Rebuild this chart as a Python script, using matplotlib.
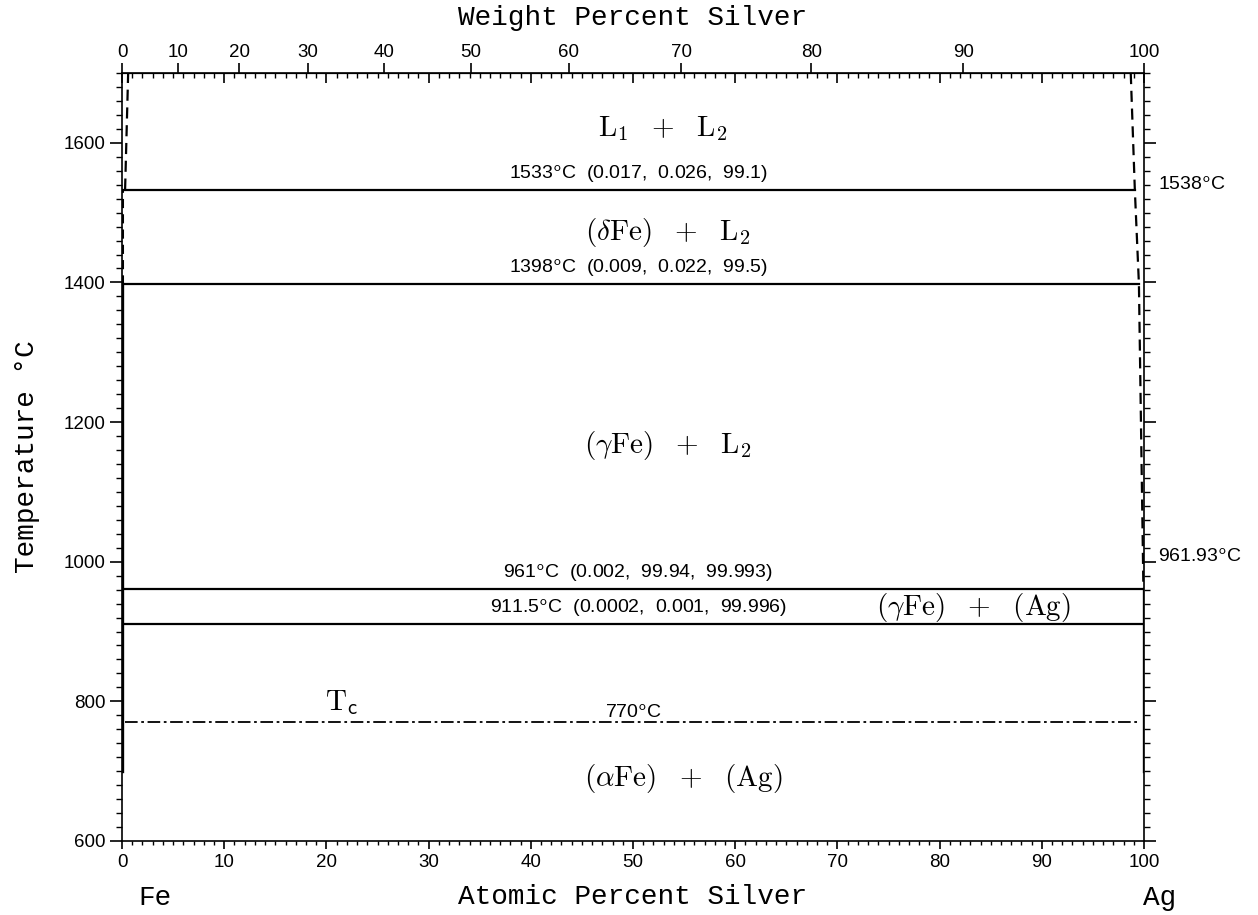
## Fe-Ag phase diagram: temperature vs atomic percent silver, with weight percent on top
import numpy as np
import matplotlib
matplotlib.use("Agg")
import matplotlib.pyplot as plt

plt.rcParams['mathtext.fontset'] = 'cm'

# atomic masses, used only for the weight-percent scale on top
M_AG = 107.8682
M_FE = 55.845

# invariant reactions: temperature, left end, right end (at.% Ag)
inv_temps = [1533, 1398, 961, 911.5]
inv_left = [0.017, 0.009, 0.002, 0.0002]
inv_right = [99.1, 99.5, 99.993, 99.996]
inv_labels = ["1533$^{\\mathsf{o}}$C  (0.017,  0.026,  99.1)",
              "1398$^{\\mathsf{o}}$C  (0.009,  0.022,  99.5)",
              "961$^{\\mathsf{o}}$C  (0.002,  99.94,  99.993)",
              "911.5$^{\\mathsf{o}}$C  (0.0002,  0.001,  99.996)"]

# magnetic transition of Fe
tc_temp = 770
tc_span = [0.3, 99.6]

# L1 boundary on the Fe side (dashed)
l1_x = [0.3, 0.6]
l1_t = [1533, 1700]
# L2 boundary on the Ag side (dashed)
l2_x = [98.7, 99.1, 99.5, 99.94]
l2_t = [1700, 1533, 1398, 961]
# (Fe) solvus along the Fe edge
fe_solid_x = [0.01, 0.01]
fe_solid_t = [700, 1398]
fe_dash_x = [0.013, 0.013]
fe_dash_t = [1398, 1533]
# (Ag) solvus along the Ag edge
ag_x = [99.99, 99.99]
ag_t = [700, 961]

wt_ticks = [0, 10, 20, 30, 40, 50, 60, 70, 80, 90, 100]


def at2wt(a):
    a = np.asarray(a, dtype=float)
    with np.errstate(divide='ignore', invalid='ignore'):
        return 100 * a * M_AG / (a * M_AG + (100 - a) * M_FE)


def wt2at(w):
    w = np.asarray(w, dtype=float)
    with np.errstate(divide='ignore', invalid='ignore'):
        return 100 * (w / M_AG) / (w / M_AG + (100 - w) / M_FE)


fig = plt.figure(figsize=(12.58, 9.15), dpi=100)
ax = fig.add_axes([0.097, 0.0809, 0.8124, 0.8393])
ax.set_xlim(0, 100)
ax.set_ylim(600, 1700)

# horizontal invariant lines
for t, x0, x1, lab in zip(inv_temps, inv_left, inv_right, inv_labels):
    ax.plot([x0, x1], [t, t], color='k', lw=1.6)
    ax.text(50.5, t + 7, lab, ha='center', va='bottom', fontsize=14,
            family='Liberation Sans')

ax.plot(tc_span, [tc_temp, tc_temp], color='k', lw=1.3, linestyle=(0, (7, 2, 1.5, 2)))
ax.text(50, tc_temp + 1, "770$^{\\mathsf{o}}$C", ha='center', va='bottom', fontsize=14,
        family='Liberation Sans')
ax.text(21.5, 798, "$\\mathrm{T}_{\\mathsf{c}}$", ha='center', va='center', fontsize=21)

ax.plot(l1_x, l1_t, color='k', lw=1.6, linestyle=(0, (5, 3)))
ax.plot(l2_x, l2_t, color='k', lw=1.6, linestyle=(0, (5, 3)))
ax.plot(fe_solid_x, fe_solid_t, color='k', lw=2.4)
ax.plot(fe_dash_x, fe_dash_t, color='k', lw=2.2, linestyle=(0, (3, 2)))
ax.plot(ag_x, ag_t, color='k', lw=2.4)

# phase region labels
ax.text(52.9, 1621, "$\\mathrm{L}_1\\ \\ +\\ \\ \\mathrm{L}_2$", ha='center', va='center', fontsize=21)
ax.text(53.4, 1471, "$(\\delta\\mathrm{Fe})\\ \\ +\\ \\ \\mathrm{L}_2$", ha='center', va='center', fontsize=21)
ax.text(53.4, 1167, "$(\\gamma\\mathrm{Fe})\\ \\ +\\ \\ \\mathrm{L}_2$", ha='center', va='center', fontsize=21)
ax.text(83.3, 934, "$(\\gamma\\mathrm{Fe})\\ \\ +\\ \\ (\\mathrm{Ag})$", ha='center', va='center', fontsize=21)
ax.text(54.9, 690, "$(\\alpha\\mathrm{Fe})\\ \\ +\\ \\ (\\mathrm{Ag})$", ha='center', va='center', fontsize=21)

# melting points of the pure metals on the right
ax.text(101.4, 1540, "1538$^{\\mathsf{o}}$C", ha='left', va='center', fontsize=14,
        family='Liberation Sans', clip_on=False)
ax.text(101.4, 1007, "961.93$^{\\mathsf{o}}$C", ha='left', va='center', fontsize=14,
        family='Liberation Sans', clip_on=False)

# axes, ticks
ax.set_xticks(np.arange(0, 101, 10))
ax.set_xticks(np.arange(0, 101, 1), minor=True)
ax.set_yticks(np.arange(600, 1601, 200))
ax.set_yticks(np.arange(600, 1701, 20), minor=True)
ax.tick_params(axis='x', which='both', direction='out', top=False)
ax.tick_params(axis='x', which='major', length=6, width=1.2)
ax.tick_params(axis='x', which='minor', length=3, width=1)
ax.tick_params(axis='y', which='both', direction='out', right=True, labelright=False)
ax.tick_params(axis='y', which='major', length=8.5, width=1.2)
ax.tick_params(axis='y', which='minor', length=4, width=1)
for lab in ax.get_xticklabels() + ax.get_yticklabels():
    lab.set_family('Liberation Sans')
    lab.set_fontsize(13.5)
for s in ax.spines.values():
    s.set_linewidth(1.2)

# at.% ticks pointing inward along the top edge
top_in = ax.secondary_xaxis('top')
top_in.set_xticks(np.arange(0, 101, 10))
top_in.set_xticks(np.arange(0, 101, 1), minor=True)
top_in.tick_params(which='both', direction='in', labeltop=False)
top_in.tick_params(which='major', length=7, width=1.2)
top_in.tick_params(which='minor', length=3.5, width=1)

# wt.% scale on the top edge
top_wt = ax.secondary_xaxis('top', functions=(at2wt, wt2at))
top_wt.set_xticks(wt_ticks)
top_wt.xaxis.set_minor_locator(matplotlib.ticker.NullLocator())
top_wt.tick_params(which='major', direction='out', length=7, width=1.2, pad=2)
for lab in top_wt.get_xticklabels():
    lab.set_family('Liberation Sans')
    lab.set_fontsize(13.5)
top_wt.set_xlabel("Weight Percent Silver", family='Liberation Mono', fontsize=20, labelpad=13)

ax.set_xlabel("Atomic Percent Silver", family='Liberation Mono', fontsize=20, labelpad=9)
ax.set_ylabel("Temperature °C", family='Liberation Mono', fontsize=20, labelpad=17)
fig.text(0.123, 0.0186, "Fe", ha='center', va='center', family='Liberation Mono', fontsize=20)
fig.text(0.922, 0.0186, "Ag", ha='center', va='center', family='Liberation Mono', fontsize=20)

fig.savefig("out.png", dpi=100)
